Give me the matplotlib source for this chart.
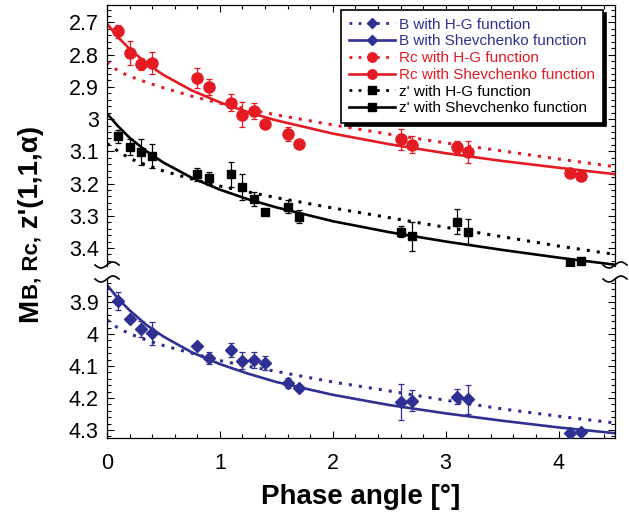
import matplotlib

matplotlib.use("Agg")
import matplotlib.pyplot as plt
import numpy as np
from matplotlib.lines import Line2D
from matplotlib.ticker import FuncFormatter, MultipleLocator

plt.rcParams["font.family"] = ["Liberation Sans", "DejaVu Sans"]

RED = "#e51b23"
BLUE = "#2e3191"
BLACK = "#000000"

# observed magnitudes per phase angle
phase = [0.1, 0.2, 0.3, 0.4, 0.8, 0.9, 1.1, 1.2, 1.3, 1.4, 1.6, 1.7, 2.6, 2.7, 3.1, 3.2, 4.1, 4.2]
rc_mag = [2.727, 2.795, 2.828, 2.826, 2.872, 2.900, 2.949, 2.986, 2.975, 3.014, 3.047, 3.078,
          3.063, 3.079, 3.086, 3.102, 3.167, 3.177]
rc_err = [0.020, 0.037, 0.019, 0.034, 0.031, 0.024, 0.026, 0.040, 0.026, 0.0, 0.022, 0.0,
          0.033, 0.027, 0.019, 0.033, 0.0, 0.0]
z_mag = [3.053, 3.088, 3.102, 3.114, 3.171, 3.184, 3.172, 3.210, 3.248, 3.287, 3.272, 3.303,
         3.349, 3.363, 3.318, 3.349, 3.447, 3.439]
z_err = [0.020, 0.025, 0.040, 0.038, 0.020, 0.020, 0.040, 0.040, 0.022, 0.0, 0.020, 0.020,
         0.018, 0.045, 0.038, 0.039, 0.0, 0.0]
b_mag = [3.896, 3.954, 3.984, 3.998, 4.038, 4.074, 4.050, 4.083, 4.081, 4.090, 4.154, 4.168,
         4.213, 4.208, 4.196, 4.204, 4.310, 4.305]
b_err = [0.028, 0.0, 0.025, 0.037, 0.0, 0.019, 0.022, 0.026, 0.026, 0.021, 0.015, 0.0,
         0.056, 0.034, 0.024, 0.045, 0.0, 0.0]

# fitted curves at these phase angles
alpha_fit = [0, 0.1, 0.2, 0.35, 0.5, 0.75, 1.0, 1.25, 1.5, 2.0, 2.5, 3.0, 3.5, 4.0, 4.5]
rc_shev = [2.704, 2.747, 2.782, 2.827, 2.863, 2.911, 2.948, 2.979, 3.004, 3.045, 3.078, 3.106, 3.130, 3.151, 3.171]
rc_hg = [2.823, 2.851, 2.867, 2.886, 2.903, 2.929, 2.951, 2.970, 2.987, 3.018, 3.047, 3.074, 3.099, 3.124, 3.148]
z_shev = [2.983, 3.023, 3.058, 3.100, 3.135, 3.182, 3.219, 3.249, 3.274, 3.317, 3.351, 3.380, 3.406, 3.430, 3.452]
z_hg = [3.076, 3.100, 3.122, 3.143, 3.161, 3.186, 3.208, 3.226, 3.244, 3.276, 3.306, 3.336, 3.365, 3.394, 3.420]
b_shev = [3.847, 3.890, 3.926, 3.972, 4.008, 4.057, 4.094, 4.124, 4.150, 4.190, 4.222, 4.248, 4.271, 4.292, 4.310]
b_hg = [3.956, 3.982, 3.999, 4.019, 4.036, 4.060, 4.083, 4.101, 4.117, 4.150, 4.178, 4.207, 4.234, 4.257, 4.278]

legend_labels = [
    "B with H-G function",
    "B with Shevchenko function",
    "Rc with H-G function",
    "Rc with Shevchenko function",
    "z' with H-G function",
    "z' with Shevchenko function",
]

W, H = 629, 518
DOT = (0, (1, 2.3))


def px_rect(left, top, right, bottom):
    return [left / W, 1 - bottom / H, (right - left) / W, (bottom - top) / H]


def draw_series(ax, mag, err, shev, hg, color, marker, ms):
    ax.plot(alpha_fit, hg, color=color, lw=2.2, linestyle=DOT, zorder=2)
    ax.plot(alpha_fit, shev, color=color, lw=1.9, zorder=2)
    ax.errorbar(phase, mag, yerr=err, fmt=marker, color=color, ms=ms, mec=color,
                ecolor=color, elinewidth=0.9, capsize=2.5, capthick=0.9, zorder=3)


def style_axis(ax, ylim, major_ticks):
    ax.set_xlim(0, 4.5)
    ax.set_ylim(*ylim)
    ax.set_yticks(major_ticks)
    ax.yaxis.set_minor_locator(MultipleLocator(0.02))
    ax.xaxis.set_major_locator(MultipleLocator(1))
    ax.xaxis.set_minor_locator(MultipleLocator(0.2))
    ax.yaxis.set_major_formatter(FuncFormatter(lambda v, p: f"{round(v, 2):g}"))
    ax.tick_params(which="both", direction="in", top=True, right=True, width=0.8)
    ax.tick_params(which="major", length=5, labelsize=15.5, pad=6)
    ax.tick_params(which="minor", length=3)
    for s in ax.spines.values():
        s.set_linewidth(0.9)


def break_mark(fig, x, y):
    t = np.linspace(-1, 1, 40)
    xs = (x + 12 * t) / W
    ys = 1 - (y - 3 * np.sin(np.pi * t)) / H
    fig.add_artist(Line2D(xs, ys, color="black", lw=1.2, transform=fig.transFigure))


fig = plt.figure(figsize=(6.29, 5.18), dpi=100)
ax_top = fig.add_axes(px_rect(107, 5, 615, 266))
ax_bot = fig.add_axes(px_rect(107, 278, 615, 438))

draw_series(ax_top, rc_mag, rc_err, rc_shev, rc_hg, RED, "o", 8)
draw_series(ax_top, z_mag, z_err, z_shev, z_hg, BLACK, "s", 6.3)
draw_series(ax_bot, b_mag, b_err, b_shev, b_hg, BLUE, "D", 6.5)

style_axis(ax_top, (3.456, 2.646), [2.7, 2.8, 2.9, 3.0, 3.1, 3.2, 3.3, 3.4])
style_axis(ax_bot, (4.325, 3.825), [3.9, 4.0, 4.1, 4.2, 4.3])
ax_top.spines["bottom"].set_visible(False)
ax_top.tick_params(which="both", bottom=False, labelbottom=False)
ax_bot.spines["top"].set_visible(False)
ax_bot.tick_params(which="both", top=False)
ax_bot.tick_params(axis="x", which="major", pad=11)

for xb in (107, 615):
    break_mark(fig, xb, 265)
    break_mark(fig, xb, 279)

# legend
handles = [
    Line2D([], [], color=BLUE, lw=2.0, linestyle=DOT, marker="D", ms=6.5),
    Line2D([], [], color=BLUE, lw=1.9, marker="D", ms=6.5),
    Line2D([], [], color=RED, lw=2.0, linestyle=DOT, marker="o", ms=8),
    Line2D([], [], color=RED, lw=1.9, marker="o", ms=8),
    Line2D([], [], color=BLACK, lw=2.0, linestyle=DOT, marker="s", ms=6.3),
    Line2D([], [], color=BLACK, lw=1.9, marker="s", ms=6.3),
]
leg = ax_top.legend(handles, legend_labels, loc="upper right", bbox_to_anchor=(0.976, 0.981),
                    borderaxespad=0, fontsize=11, handlelength=3.0, handletextpad=0.3,
                    labelspacing=0.18, borderpad=0.5, fancybox=False, framealpha=1,
                    edgecolor="black", markerscale=0.85,
                    shadow={"color": "black", "alpha": 1, "ox": 2.5, "oy": -2.5})
leg.get_frame().set_linewidth(1.2)
for txt, c in zip(leg.get_texts(), [BLUE, BLUE, RED, RED, BLACK, BLACK]):
    txt.set_color(c)

# axis labels
fig.text(361 / W, 1 - 497 / H, "Phase angle [°]", ha="center", va="center",
         fontsize=20, fontweight="bold")

renderer = fig.canvas.get_renderer()
pieces = [("M", 20), ("B, Rc,", 16), (" z'(1,1,α)", 20)]
y_pos = H - 322
for txt, size in pieces:
    probe = fig.text(0, 0, txt, fontsize=size, fontweight="bold")
    width = probe.get_window_extent(renderer).width
    probe.remove()
    fig.text(37.5 / W, y_pos / H, txt, rotation=90, rotation_mode="anchor",
             ha="left", va="baseline", fontsize=size, fontweight="bold")
    y_pos += width

fig.savefig("out.png", dpi=100)
